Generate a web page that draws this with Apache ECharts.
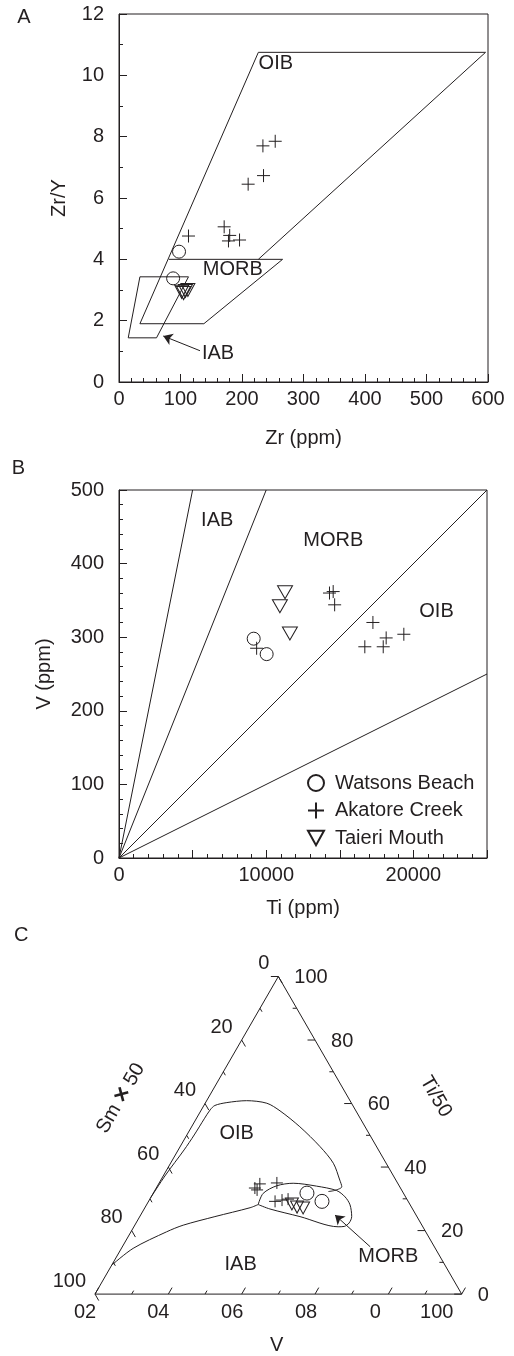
<!DOCTYPE html>
<html>
<head>
<meta charset="utf-8">
<script src="https://cdn.jsdelivr.net/npm/echarts@6/dist/echarts.min.js"></script>
<style>
html,body{margin:0;padding:0;background:#fff;}
#chart{width:514px;height:1356px;}
</style>
</head>
<body>
<div id="chart"></div>
<script>
// ---------------- DATA ----------------
// Panel A : Zr (ppm) vs Zr/Y
const aWatsons = [[97.6, 4.25], [88, 3.38]];
const aAkatore = [[234, 7.70], [254, 7.85], [210, 6.45], [235, 6.73], [171, 5.06], [180, 4.78], [178, 4.60], [196, 4.63], [113, 4.76]];
const aTaieri  = [[102, 2.94], [105, 2.90], [108, 2.97], [112, 3.00]];
const aOIB  = [[34, 1.9], [226.6, 10.75], [596, 10.75], [226.6, 4.0]];
const aMORB = [[81, 4.0], [266, 4.0], [138, 1.9], [34, 1.9]];
const aIAB  = [[34, 3.43], [113, 3.43], [61, 1.44], [15, 1.44], [34, 3.43]];
const aFieldLabels = [{name: 'OIB', value: [255, 10.4]}, {name: 'MORB', value: [185, 3.67]}, {name: 'IAB', value: [161, 0.94]}];
const aArrow = [[131.7, 1.02], [72, 1.5]];

// Panel B : Ti (ppm) vs V (ppm)
const bRatios = [10, 20, 50, 100];               // Ti/V dividing lines
const bWatsons = [[9150, 298], [10030, 277]];
const bAkatore = [[9350, 285], [14300, 360], [14550, 362], [14650, 344], [17250, 320], [16700, 287], [17950, 287], [18150, 299], [19350, 304]];
const bTaieri  = [[11280, 361], [10930, 342], [11610, 305]];
const bFieldLabels = [{name: 'IAB', value: [6673, 458]}, {name: 'MORB', value: [14555, 431]}, {name: 'OIB', value: [21570, 335]}];

// Panel C : ternary [Ti/50, V, Sm×50] (percent)
const cWatsons = [[31.8, 41.9, 26.3], [29.2, 47.3, 23.5]];
const cAkatore = [[33.4, 26.9, 39.7], [32.8, 27.8, 39.4], [34.7, 27.6, 37.7], [35.0, 32.1, 32.9], [29.2, 34.5, 36.3], [29.6, 36.2, 34.2], [29.9, 37.7, 32.4]];
const cTaieri  = [[28.4, 39.5, 32.1], [27.4, 41.4, 31.2], [27.1, 43.2, 29.7]];
const cOIB = [[30.3, 0, 69.7], [37.5, 0.5, 62.0], [45.4, 1.6, 53.0], [50.1, 2.0, 47.9], [55.2, 2.2, 42.6], [58.0, 2.4, 39.6], [59.4, 3.0, 37.6],
  [60.3, 5.8, 33.9], [60.9, 10.9, 28.2], [60.1, 16.8, 23.1], [57.7, 21.6, 20.7], [52.7, 29.5, 17.8], [46.4, 38.2, 15.4], [41.2, 44.4, 14.4],
  [35.9, 48.8, 15.3], [33.8, 50.4, 15.8], [32.7, 49.2, 18.1], [32.3, 47.5, 20.2]];
const cMORB = [[28.2, 30.4, 41.4], [31.7, 30.0, 38.3], [34.1, 32.5, 33.4], [34.9, 36.6, 28.5], [34.0, 43.4, 22.6], [32.6, 49.6, 17.8],
  [30.6, 52.9, 16.5], [28.1, 55.5, 16.4], [24.4, 57.8, 17.8], [22.4, 58.1, 19.5], [21.3, 57.3, 21.4], [21.2, 55.7, 23.1],
  [24.4, 43.7, 31.9], [26.8, 34.3, 38.9], [28.2, 30.4, 41.4]];
const cIAB = [[9.1, 0, 90.9], [14.4, 3.2, 82.4], [19.6, 9.7, 70.7], [21.7, 13.2, 65.1], [24.4, 20.5, 55.1], [27.2, 28.7, 44.1], [28.2, 30.4, 41.4]];
const cFrame = [[100, 0, 0], [0, 100, 0], [0, 0, 100], [100, 0, 0]];
const cFieldLabels = [{name: 'OIB', value: [50.65, 13.3, 36.05]}, {name: 'IAB', value: [9.45, 35.0, 55.55]}, {name: 'MORB', value: [11.76, 74.1, 14.14]}];
const cArrow = [[14.9, 67.6, 17.5], [24.9, 53.0, 22.1]];
const cTickValues = [0, 10, 20, 30, 40, 50, 60, 70, 80, 90, 100];
const cBottomLabels = ['02', '04', '06', '08', '0', '100'];   // V axis, at 0..100 step 20
const cRightLabels  = ['100', '80', '60', '40', '20', '0'];   // Ti/50 axis, at 100..0
const cLeftLabels   = ['0', '20', '40', '60', '80', '100'];   // Sm×50 axis, at 0..100

// ---------------- STYLE ----------------
const FONT = '"Liberation Sans", Arial, Helvetica, sans-serif';
const INK = '#231f20';
const FS = 20;
const CROSS = 'path://M0,6L12,6M6,0L6,12';
const DOWN_TRI = 'path://M0,0L14,0L7,12.5Z';
const HOLLOW = 'rgba(0,0,0,0)';
const SQ3 = Math.sqrt(3) / 2;

function tern(t) {
  const s = t[0] + t[1] + t[2];
  const ti = t[0] / s * 100, v = t[1] / s * 100;
  return [v + ti / 2, ti * SQ3];
}
function edgePoint(e, val) {
  return e === 0 ? [0, val, 100 - val] : (e === 1 ? [val, 100 - val, 0] : [100 - val, 0, val]);
}
const TICK_DIR = [[0.5, -SQ3], [-1, 0], [0.5, SQ3]];
const bottomDx = [-10, -10, -9.5, -9, -13, -25];

function valAxis(o) {
  const base = {
    type: 'value',
    axisLine: {show: true, onZero: false, lineStyle: {color: INK, width: 1}},
    axisTick: {show: true, inside: true, length: 8, lineStyle: {color: INK, width: 1}},
    minorTick: {show: true, length: 4, lineStyle: {color: INK, width: 1}},
    splitLine: {show: false},
    minorSplitLine: {show: false},
    nameLocation: 'middle',
    nameMoveOverlap: false,
    nameTextStyle: {fontSize: FS, fontFamily: FONT, color: INK}
  };
  const r = Object.assign(base, o);
  r.axisLabel = Object.assign({show: true, fontSize: FS, fontFamily: FONT, color: INK, showMinLabel: true, showMaxLabel: true}, o.axisLabel || {});
  if (o.minorSplit) { r.minorTick = Object.assign({}, base.minorTick, {splitNumber: o.minorSplit}); delete r.minorSplit; }
  return r;
}

function scatterSet(name, data, gi, symbol, size, conv) {
  return {
    type: 'scatter', name: name, xAxisIndex: gi, yAxisIndex: gi,
    data: conv ? data.map(conv) : data,
    symbol: symbol, symbolSize: size,
    itemStyle: {color: HOLLOW, borderColor: INK, borderWidth: 1, opacity: 1},
    emphasis: {disabled: true}, silent: true, z: 4
  };
}
function lineSet(data, gi, conv, smooth) {
  return {
    type: 'line', xAxisIndex: gi, yAxisIndex: gi,
    data: conv ? data.map(conv) : data,
    symbol: 'none', smooth: smooth || false, clip: false,
    lineStyle: {color: INK, width: 1}, silent: true, z: 3
  };
}
// field names drawn as text at data coordinates
function labelSet(list, gi, conv) {
  return {
    type: 'custom', coordinateSystem: 'cartesian2d', xAxisIndex: gi, yAxisIndex: gi,
    data: list.map(d => (conv ? conv(d.value) : d.value)),
    silent: true, clip: false, z: 5,
    renderItem: function (params, api) {
      const p = api.coord([api.value(0), api.value(1)]);
      return {type: 'text', x: p[0], y: p[1], style: {text: list[params.dataIndex].name, fill: INK, fontSize: FS, fontFamily: FONT, align: 'center', verticalAlign: 'middle'}};
    }
  };
}
function arrowSet(coords, gi) {
  return {
    type: 'lines', coordinateSystem: 'cartesian2d', xAxisIndex: gi, yAxisIndex: gi,
    data: [{coords: coords}], symbol: ['none', 'arrow'], symbolSize: 9,
    lineStyle: {color: INK, width: 1, opacity: 1, curveness: 0}, silent: true, z: 5
  };
}

const tickData = [];
[0, 1, 2].forEach(e => cTickValues.forEach(v => tickData.push([e, v])));
const tickLabelData = [];
cBottomLabels.forEach((t, i) => tickLabelData.push([0, i * 20, i]));
cRightLabels.forEach((t, i) => tickLabelData.push([1, 100 - i * 20, i]));
cLeftLabels.forEach((t, i) => tickLabelData.push([2, i * 20, i]));

const series = [
  // ---- A ----
  lineSet(aOIB, 0), lineSet(aMORB, 0), lineSet(aIAB, 0),
  labelSet(aFieldLabels, 0),
  arrowSet(aArrow, 0),
  scatterSet('Watsons Beach', aWatsons, 0, 'circle', 13),
  scatterSet('Akatore Creek', aAkatore, 0, CROSS, 13),
  scatterSet('Taieri Mouth', aTaieri, 0, DOWN_TRI, [14, 13]),
  // ---- B ----
  ...bRatios.map(r => { const v = Math.min(500, 25000 / r); return lineSet([[0, 0], [v * r, v]], 1); }),
  labelSet(bFieldLabels, 1),
  scatterSet('Watsons Beach', bWatsons, 1, 'circle', 13),
  scatterSet('Akatore Creek', bAkatore, 1, CROSS, 13),
  scatterSet('Taieri Mouth', bTaieri, 1, DOWN_TRI, [15, 13]),
  // ---- C ----
  lineSet(cFrame, 2, tern),
  lineSet(cOIB, 2, tern, 0.3),
  lineSet(cMORB, 2, tern, 0.3),
  lineSet(cIAB, 2, tern, 0.3),
  labelSet(cFieldLabels, 2, tern),
  arrowSet(cArrow.map(tern), 2),
  {
    type: 'custom', coordinateSystem: 'cartesian2d', xAxisIndex: 2, yAxisIndex: 2,
    data: tickData, silent: true, clip: false, z: 3,
    renderItem: function (params, api) {
      const e = api.value(0), v = api.value(1);
      const p = api.coord(tern(edgePoint(e, v)));
      const d = TICK_DIR[e];
      const L = v % 20 === 0 ? 7.5 : 4;
      return {type: 'line', shape: {x1: p[0], y1: p[1], x2: p[0] + d[0] * L, y2: p[1] + d[1] * L}, style: {stroke: INK, lineWidth: 1}};
    }
  },
  {
    type: 'custom', coordinateSystem: 'cartesian2d', xAxisIndex: 2, yAxisIndex: 2,
    data: tickLabelData, silent: true, clip: false, z: 3,
    renderItem: function (params, api) {
      const e = api.value(0), v = api.value(1), i = api.value(2);
      const p = api.coord(tern(edgePoint(e, v)));
      let x, y, align, text;
      if (e === 0) { text = cBottomLabels[i]; x = p[0] + bottomDx[i]; y = p[1] + 18; align = 'center'; }
      else if (e === 1) { text = cRightLabels[i]; x = p[0] + 16; y = p[1] + 1; align = 'left'; }
      else { text = cLeftLabels[i]; x = p[0] - 9; y = p[1] - 13; align = 'right'; }
      return {type: 'text', x: x, y: y, style: {text: text, fill: INK, fontSize: FS, fontFamily: FONT, align: align, verticalAlign: 'middle'}};
    }
  },
  scatterSet('Watsons Beach', cWatsons, 2, 'circle', 14, tern),
  scatterSet('Akatore Creek', cAkatore, 2, CROSS, 12, tern),
  scatterSet('Taieri Mouth', cTaieri, 2, DOWN_TRI, [13, 12], tern)
];

const txt = (t, x, y, extra) => Object.assign({
  type: 'text', x: x, y: y, silent: true,
  style: {text: t, fill: INK, fontSize: FS, fontFamily: FONT, align: 'center', verticalAlign: 'middle'}
}, extra || {});

const option = {
  animation: false,
  backgroundColor: '#ffffff',
  textStyle: {fontFamily: FONT, color: INK},
  tooltip: {show: false},
  grid: [
    {left: 119, top: 14, width: 369, height: 368, show: true, borderColor: INK, borderWidth: 1, backgroundColor: 'transparent', outerBoundsMode: 'none', containLabel: false},
    {left: 119, top: 490, width: 368, height: 368, show: true, borderColor: INK, borderWidth: 1, backgroundColor: 'transparent', outerBoundsMode: 'none', containLabel: false},
    {left: 95, top: 976.5, width: 366.7, height: 317.6, show: false, outerBoundsMode: 'none', containLabel: false}
  ],
  xAxis: [
    valAxis({gridIndex: 0, min: 0, max: 600, interval: 100, minorSplit: 5, name: 'Zr (ppm)', nameGap: 46, axisLabel: {margin: 7}}),
    valAxis({gridIndex: 1, min: 0, max: 25000, interval: 5000, minorSplit: 5, name: 'Ti (ppm)', nameGap: 40,
      axisLabel: {margin: 7, formatter: v => (v % 10000 === 0 ? String(v) : '')}}),
    {gridIndex: 2, type: 'value', min: 0, max: 100, show: false}
  ],
  yAxis: [
    valAxis({gridIndex: 0, min: 0, max: 12, interval: 2, minorSplit: 2, name: 'Zr/Y', nameGap: 50, nameRotate: 90, axisLabel: {margin: 15}}),
    valAxis({gridIndex: 1, min: 0, max: 500, interval: 100, minorSplit: 5, name: 'V (ppm)', nameGap: 65, nameRotate: 90, axisLabel: {margin: 15}}),
    {gridIndex: 2, type: 'value', min: 0, max: 100 * SQ3, show: false}
  ],
  legend: {
    show: true, orient: 'vertical', left: 302, top: 768,
    itemWidth: 16, itemHeight: 16, itemGap: 7.5,
    data: ['Watsons Beach', 'Akatore Creek', 'Taieri Mouth'],
    textStyle: {fontSize: FS, fontFamily: FONT, color: INK, padding: [0, 0, 0, 6]},
    selectedMode: false
  },
  graphic: [
    txt('A', 24, 17),
    txt('B', 18.3, 468.3),
    txt('C', 21.3, 935),
    txt('V', 276.7, 1345),
    txt('Ti/50', 435.8, 1096.7, {rotation: -Math.PI / 3}),
    txt('', 120.7, 1098.3, {rotation: Math.PI / 3, style: {
      text: 'Sm {x|×} 50', fill: INK, fontSize: FS, fontFamily: FONT, align: 'center', verticalAlign: 'middle',
      rich: {x: {fontSize: 24, fontWeight: 'bold', fontFamily: FONT, fill: INK}}
    }})
  ],
  series: series
};

const chart = echarts.init(document.getElementById('chart'), null, {renderer: 'canvas', width: 514, height: 1356});
chart.setOption(option);
</script>
</body>
</html>
